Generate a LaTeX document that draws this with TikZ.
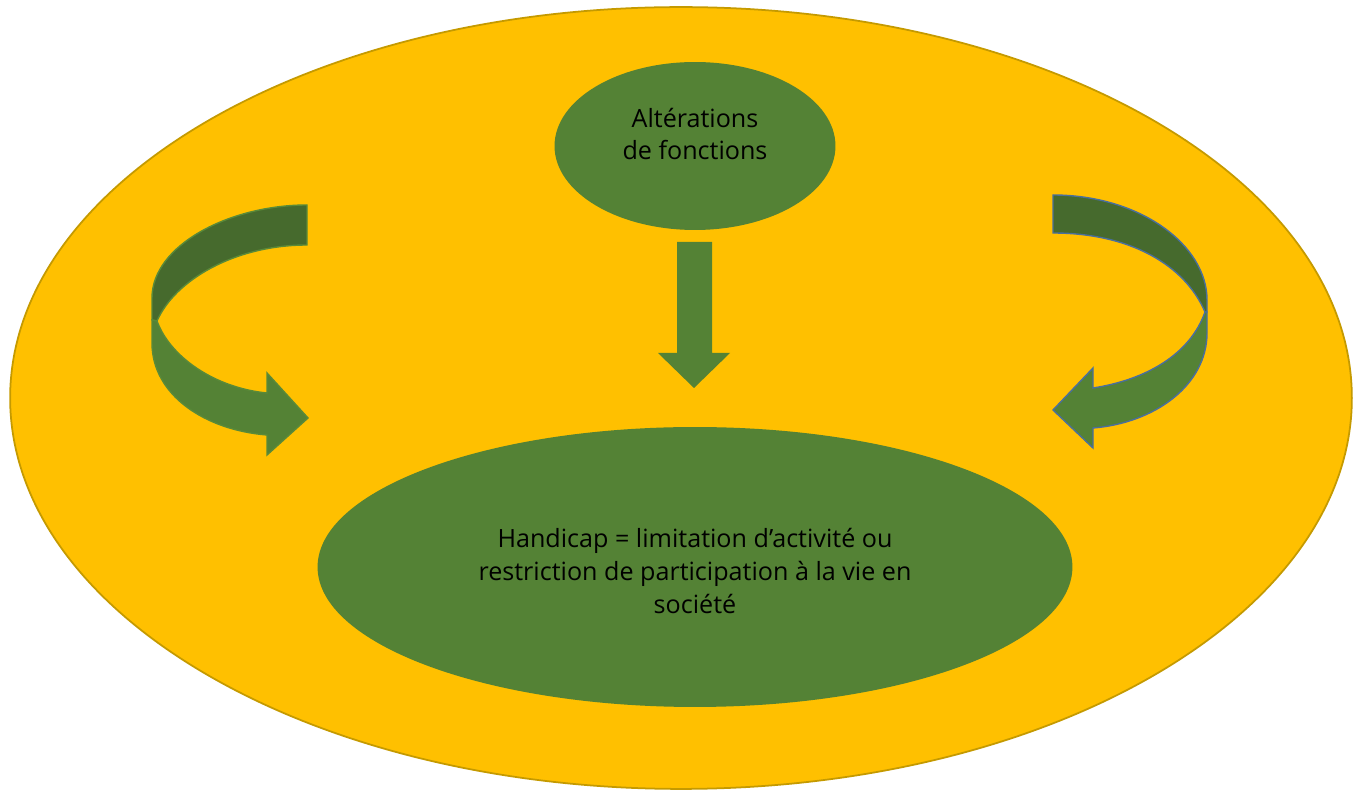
\documentclass[tikz,border=0pt]{standalone}
\usepackage{fontspec}
\setmainfont{Open Sans}
\usetikzlibrary{shapes.geometric}
\definecolor{gold}{HTML}{FFC000}
\definecolor{goldline}{HTML}{C59A00}
\definecolor{leaf}{HTML}{548235}
\definecolor{leafdark}{HTML}{466A2D}
\definecolor{leafline}{HTML}{5A8A38}
\definecolor{steel}{HTML}{4A6F9C}
\tikzset{
  oval/.style={ellipse, inner sep=0pt, fill=leaf},
  label text/.style={font=\fontsize{14.3pt}{18.7pt}\selectfont, align=center, text=black, inner sep=0pt},
  bandback/.style={fill=leafdark, line width=0.8pt},
  bandfront/.style={fill=leaf, line width=0.8pt},
}
\begin{document}
\begin{tikzpicture}[x=0.02cm, y=-0.02cm]
  \useasboundingbox (0,0) rectangle (1357,793);
  \fill[white] (0,0) rectangle (1357,793);

  % outer field
  \node[ellipse, inner sep=0pt, fill=gold, draw=goldline, line width=1pt,
        minimum width=26.84cm, minimum height=15.64cm] (field) at (681,398) {};

  % the two inner ovals
  \node[oval, minimum width=5.62cm, minimum height=3.36cm] (alter) at (695,146) {};
  \node[oval, minimum width=15.1cm, minimum height=5.6cm] (handi) at (695,567) {};

  \node[label text] (alterTxt) at (695,134) {Altérations\\de fonctions};
  \node[label text] (handiTxt) at (695,571) {Handicap = limitation d’activité ou\\restriction de participation à la vie en\\société};

  % straight arrow from the top oval to the bottom one
  \fill[leaf] (677,242) -- (712,242) -- (712,353) -- (730,353) -- (694,388)
              -- (658,353) -- (677,353) -- cycle;

  % left curved arrow: back face
  \filldraw[bandback, draw=leafline]
    (307,205) .. controls (230,205) and (152,245) .. (152,298) -- (152,320)
    -- (157,321) .. controls (175,280) and (235,245) .. (307,245) -- cycle;
  % left curved arrow: front face with head
  \filldraw[bandfront, draw=leafline]
    (152,320) -- (152,343) .. controls (152,395) and (205,430) .. (267,435)
    -- (267,455) -- (308,418) -- (267,373) -- (267,393)
    .. controls (215,388) and (170,357) .. (157,321) -- cycle;

  % right curved arrow: back face
  \filldraw[bandback, draw=steel]
    (1053,195) .. controls (1140,195) and (1207,245) .. (1207,300) -- (1207,312)
    -- (1205,312) .. controls (1185,265) and (1130,233) .. (1053,233) -- cycle;
  % right curved arrow: front face with head
  \filldraw[bandfront, draw=steel]
    (1207,312) -- (1207,333) .. controls (1207,385) and (1155,423) .. (1093,428)
    -- (1093,448) -- (1053,410) -- (1093,368) -- (1093,388)
    .. controls (1145,380) and (1190,355) .. (1205,312) -- cycle;
\end{tikzpicture}
\end{document}
